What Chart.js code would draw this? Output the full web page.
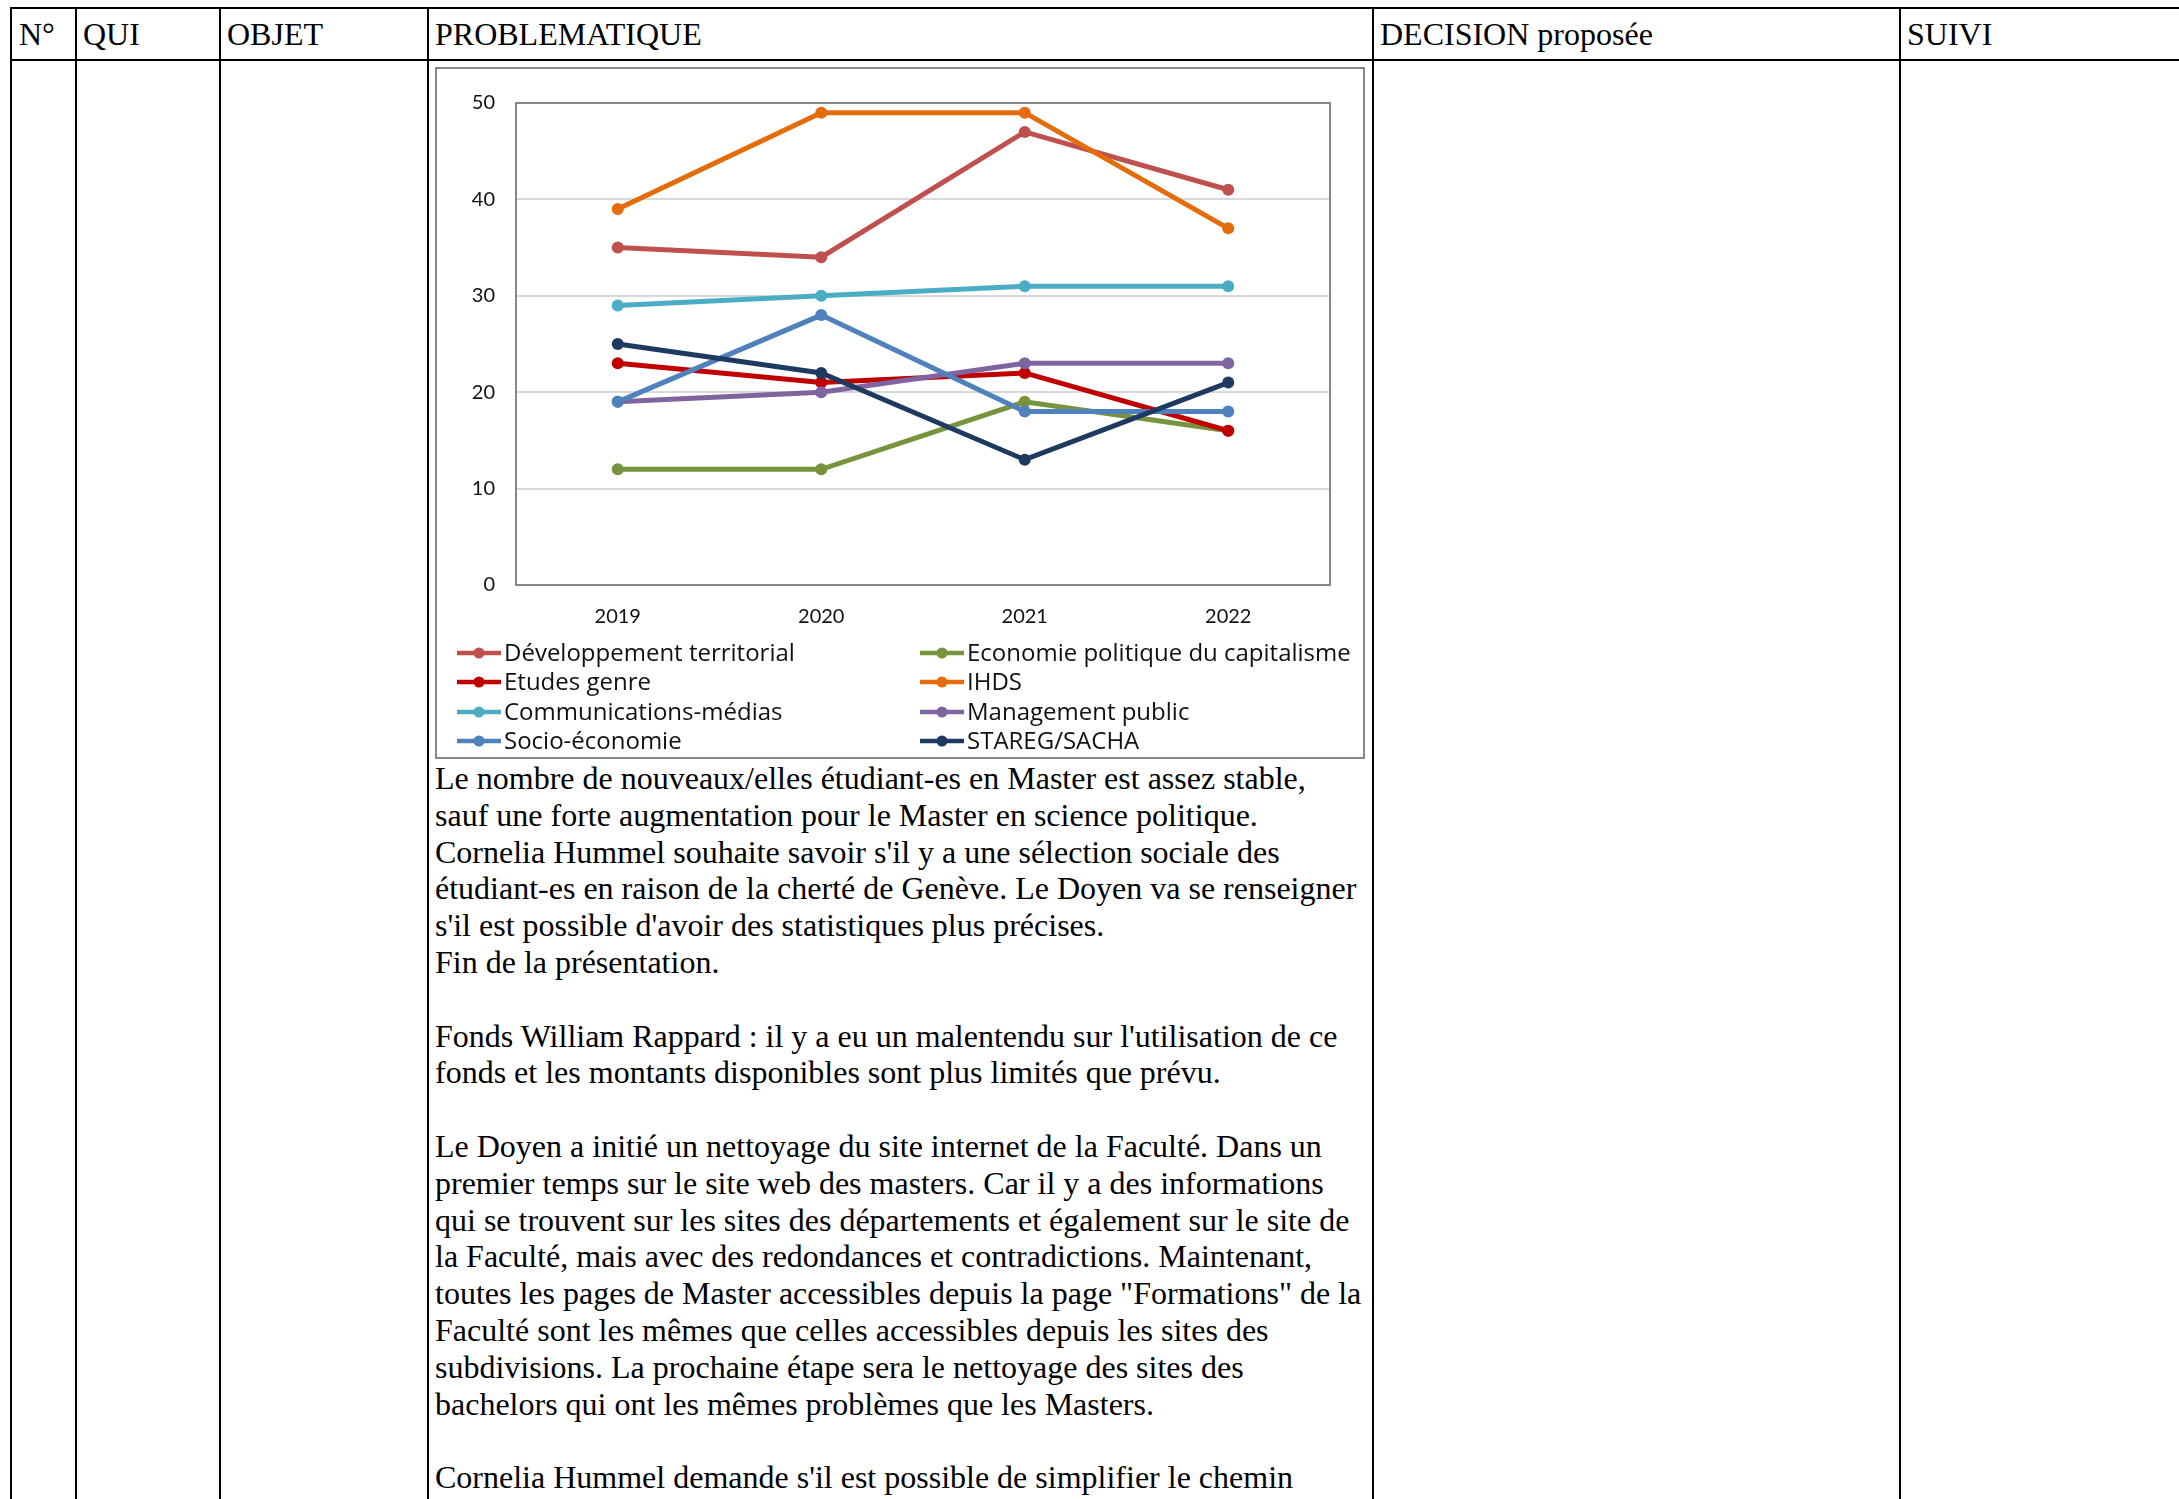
<!DOCTYPE html>
<html>
	<head>
		<meta charset="UTF-8" />
		<title>PV - nouveaux étudiant-es Master</title>
		<script src="https://cdn.jsdelivr.net/npm/chart.js@4.4.1/dist/chart.umd.min.js"></script>
		<style type="text/css">
			html, body {
				margin: 0;
				padding: 0;
				background: #fff;
			}
			body {
				position: relative;
				width: 2179px;
				height: 1499px;
				overflow: hidden;
				font-family: "Liberation Serif", "DejaVu Serif", serif;
				font-size: 32px;
				color: #000;
			}
			.hline, .vline {
				position: absolute;
				background: #000;
			}
			.hline { height: 2px; left: 10px; right: 0; }
			.vline { width: 2px; top: 7px; bottom: 0; }
			.head {
				position: absolute;
				top: 16px;
				line-height: 36.8px;
				white-space: nowrap;
			}
			.chartBox {
				position: absolute;
				left: 435px;
				top: 67px;
				width: 930px;
				height: 692px;
				border: 2px solid #878787;
				box-sizing: border-box;
			}
			.texte {
				position: absolute;
				left: 435px;
				top: 760px;
				line-height: 36.8px;
				white-space: nowrap;
			}
			.texte div { height: 36.8px; }
		</style>
	</head>
	<body>
		<div class="hline" style="top:7px"></div>
		<div class="hline" style="top:59px"></div>
		<div class="vline" style="left:10px"></div>
		<div class="vline" style="left:75px"></div>
		<div class="vline" style="left:219px"></div>
		<div class="vline" style="left:427px"></div>
		<div class="vline" style="left:1372px"></div>
		<div class="vline" style="left:1899px"></div>

		<div class="head" style="left:19px">N°</div>
		<div class="head" style="left:83px">QUI</div>
		<div class="head" style="left:227px">OBJET</div>
		<div class="head" style="left:435px">PROBLEMATIQUE</div>
		<div class="head" style="left:1380px">DECISION proposée</div>
		<div class="head" style="left:1907px">SUIVI</div>

		<div class="chartBox">
			<canvas id="myChart" width="926" height="688"></canvas>
		</div>

		<div class="texte">
			<div>Le nombre de nouveaux/elles étudiant-es en Master est assez stable,</div>
			<div>sauf une forte augmentation pour le Master en science politique.</div>
			<div>Cornelia Hummel souhaite savoir s'il y a une sélection sociale des</div>
			<div>étudiant-es en raison de la cherté de Genève. Le Doyen va se renseigner</div>
			<div>s'il est possible d'avoir des statistiques plus précises.</div>
			<div>Fin de la présentation.</div>
			<div></div>
			<div>Fonds William Rappard : il y a eu un malentendu sur l'utilisation de ce</div>
			<div>fonds et les montants disponibles sont plus limités que prévu.</div>
			<div></div>
			<div>Le Doyen a initié un nettoyage du site internet de la Faculté. Dans un</div>
			<div>premier temps sur le site web des masters. Car il y a des informations</div>
			<div>qui se trouvent sur les sites des départements et également sur le site de</div>
			<div>la Faculté, mais avec des redondances et contradictions. Maintenant,</div>
			<div>toutes les pages de Master accessibles depuis la page "Formations" de la</div>
			<div>Faculté sont les mêmes que celles accessibles depuis les sites des</div>
			<div>subdivisions. La prochaine étape sera le nettoyage des sites des</div>
			<div>bachelors qui ont les mêmes problèmes que les Masters.</div>
			<div></div>
			<div>Cornelia Hummel demande s'il est possible de simplifier le chemin</div>
		</div>

		<script>
			// années et nombre de nouveaux/elles étudiant-es par Master
			var annees = ["2019", "2020", "2021", "2022"];
			var devTerritorial = [35, 34, 47, 41];
			var ecoPolitique = [12, 12, 19, 16];
			var etudesGenre = [23, 21, 22, 16];
			var ihds = [39, 49, 49, 37];
			var communications = [29, 30, 31, 31];
			var managementPublic = [19, 20, 23, 23];
			var socioEconomie = [19, 28, 18, 18];
			var staregSacha = [25, 22, 13, 21];
			var yTicks = [0, 10, 20, 30, 40, 50];
		</script>

		<script>
		const ctx = document.getElementById('myChart').getContext('2d');

		const series = [
			{ label: "Développement territorial", color: '#C0504D', data: devTerritorial },
			{ label: "Economie politique du capitalisme", color: '#77933C', data: ecoPolitique },
			{ label: "Etudes genre", color: '#C00000', data: etudesGenre },
			{ label: "IHDS", color: '#E46C0A', data: ihds },
			{ label: "Communications-médias", color: '#4BACC6', data: communications },
			{ label: "Management public", color: '#8064A2', data: managementPublic },
			{ label: "Socio-économie", color: '#4F81BD', data: socioEconomie },
			{ label: "STAREG/SACHA", color: '#1F3A60', data: staregSacha }
		];

		const axisGrey = '#878787';
		const tickFont = { family: 'Lato', size: 20 };

		//cadre de la zone de tracé (comme dans Excel)
		const plotFrame = {
			id: 'plotFrame',
			beforeDatasetsDraw(chart) {
				const a = chart.chartArea;
				const c = chart.ctx;
				c.save();
				c.strokeStyle = axisGrey;
				c.lineWidth = 2;
				c.strokeRect(a.left, a.top, a.right - a.left, a.bottom - a.top);
				c.restore();
			}
		};

		//légende sur deux colonnes
		const twoColLegend = {
			id: 'twoColLegend',
			afterDraw(chart) {
				const c = chart.ctx;
				const colX = [20, 483];
				const rowY = [584, 613, 643, 672];
				c.save();
				c.font = '24px "Open Sans"';
				c.textBaseline = 'middle';
				chart.data.datasets.forEach(function(ds, i) {
					const x = colX[i % 2];
					const y = rowY[Math.floor(i / 2)];
					c.strokeStyle = ds.borderColor;
					c.lineWidth = 4.5;
					c.beginPath();
					c.moveTo(x, y);
					c.lineTo(x + 44, y);
					c.stroke();
					c.fillStyle = ds.borderColor;
					c.beginPath();
					c.arc(x + 22, y, 5.5, 0, Math.PI * 2);
					c.fill();
					c.fillStyle = '#111';
					c.fillText(ds.label, x + 47, y + 1);
				});
				c.restore();
			}
		};

		const config = {
			type: 'line',
			data: {
				labels: annees,
				datasets: series.map(function(s, i) {
					return {
						label: s.label,
						data: s.data,
						borderColor: s.color,
						backgroundColor: s.color,
						borderWidth: 5,
						pointRadius: 6,
						pointHoverRadius: 6,
						pointBorderWidth: 0,
						tension: 0,
						order: series.length - i
					};
				})
			},
			options: {
				responsive: false,
				animation: false,
				devicePixelRatio: 1,
				layout: {
					padding: { left: 0, top: 34, right: 33, bottom: 0 }
				},
				plugins: {
					legend: { display: false },
					tooltip: { enabled: false }
				},
				scales: {
					x: {
						offset: true,
						grid: { display: false, drawTicks: false },
						border: { display: true, color: axisGrey, width: 2 },
						ticks: { color: '#111', font: tickFont, padding: 20 },
						afterFit: function(s) { s.height = 172; }
					},
					y: {
						min: 0,
						max: 50,
						afterBuildTicks: function(s) {
							s.ticks = yTicks.map(function(v) { return { value: v }; });
						},
						grid: { color: '#d9d9d9', lineWidth: 2, drawTicks: false },
						border: { display: true, color: axisGrey, width: 2 },
						ticks: { color: '#111', font: tickFont, padding: 21 },
						afterFit: function(s) { s.width = 79; }
					}
				}
			},
			plugins: [plotFrame, twoColLegend]
		};

		const myChart = new Chart(ctx, config);
		</script>
	</body>
</html>
